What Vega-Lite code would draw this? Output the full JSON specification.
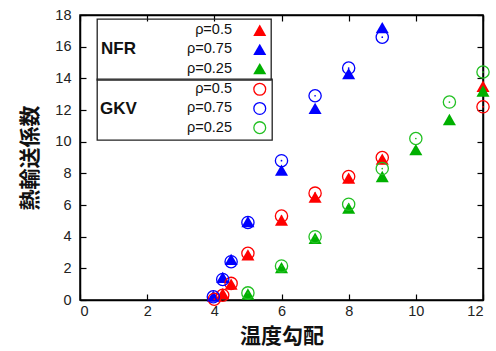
{
  "$schema": "https://vega.github.io/schema/vega-lite/v6.json",
  "autosize": {"type": "none"},
  "width": 403,
  "height": 285,
  "padding": {"left": 80, "top": 15, "right": 13, "bottom": 51},
  "background": "white",
  "config": {
    "view": {"stroke": "#000", "strokeWidth": 1.5},
    "font": "Liberation Sans",
    "axis": {
      "grid": false,
      "domainColor": "#000",
      "domainWidth": 1.5,
      "tickColor": "#000",
      "tickWidth": 1.2,
      "tickSize": -6,
      "labelFont": "Liberation Sans",
      "labelFontSize": 14.5,
      "labelColor": "#222",
      "titleFont": "Noto Sans CJK JP",
      "titleFontSize": 21,
      "titleFontWeight": "bold",
      "titleColor": "#111"
    },
    "legend": {
      "labelFont": "Liberation Sans",
      "labelFontSize": 14.5,
      "labelColor": "#111",
      "titleFont": "Liberation Sans",
      "titleFontSize": 17,
      "titleFontWeight": "bold",
      "titleColor": "#111",
      "strokeColor": "#222",
      "strokeWidth": 1.3
    }
  },
  "data": {
    "values": [
      {"nfr": "ρ=0.5", "x": 4.25, "y": 0.4},
      {"nfr": "ρ=0.5", "x": 4.5, "y": 1.0},
      {"nfr": "ρ=0.5", "x": 5, "y": 2.85},
      {"nfr": "ρ=0.5", "x": 6, "y": 5.05},
      {"nfr": "ρ=0.5", "x": 7, "y": 6.5},
      {"nfr": "ρ=0.5", "x": 8, "y": 7.7},
      {"nfr": "ρ=0.5", "x": 9, "y": 8.9},
      {"nfr": "ρ=0.5", "x": 12, "y": 13.5},
      {"nfr": "ρ=0.75", "x": 3.97, "y": 0.25},
      {"nfr": "ρ=0.75", "x": 4.25, "y": 1.43},
      {"nfr": "ρ=0.75", "x": 4.5, "y": 2.57},
      {"nfr": "ρ=0.75", "x": 5, "y": 4.95},
      {"nfr": "ρ=0.75", "x": 6, "y": 8.2},
      {"nfr": "ρ=0.75", "x": 7, "y": 12.1},
      {"nfr": "ρ=0.75", "x": 8, "y": 14.3},
      {"nfr": "ρ=0.75", "x": 9, "y": 17.2},
      {"nfr": "ρ=0.25", "x": 5, "y": 0.38},
      {"nfr": "ρ=0.25", "x": 6, "y": 2.05},
      {"nfr": "ρ=0.25", "x": 7, "y": 3.9},
      {"nfr": "ρ=0.25", "x": 8, "y": 5.8},
      {"nfr": "ρ=0.25", "x": 9, "y": 7.8},
      {"nfr": "ρ=0.25", "x": 10, "y": 9.5},
      {"nfr": "ρ=0.25", "x": 11, "y": 11.4},
      {"nfr": "ρ=0.25", "x": 12, "y": 13.2},
      {"gkv": "ρ=0.5", "x": 4.0, "y": 0.05},
      {"gkv": "ρ=0.5", "x": 4.25, "y": 0.3},
      {"gkv": "ρ=0.5", "x": 4.5, "y": 1.05},
      {"gkv": "ρ=0.5", "x": 5, "y": 2.95},
      {"gkv": "ρ=0.5", "x": 6, "y": 5.3},
      {"gkv": "ρ=0.5", "x": 7, "y": 6.75},
      {"gkv": "ρ=0.5", "x": 8, "y": 7.8},
      {"gkv": "ρ=0.5", "x": 9, "y": 9.0},
      {"gkv": "ρ=0.5", "x": 12, "y": 12.2},
      {"gkv": "ρ=0.75", "x": 3.97, "y": 0.2},
      {"gkv": "ρ=0.75", "x": 4.25, "y": 1.3},
      {"gkv": "ρ=0.75", "x": 4.5, "y": 2.42},
      {"gkv": "ρ=0.75", "x": 5, "y": 4.9},
      {"gkv": "ρ=0.75", "x": 6, "y": 8.8},
      {"gkv": "ρ=0.75", "x": 7, "y": 12.9},
      {"gkv": "ρ=0.75", "x": 8, "y": 14.65},
      {"gkv": "ρ=0.75", "x": 9, "y": 16.6},
      {"gkv": "ρ=0.25", "x": 5, "y": 0.45},
      {"gkv": "ρ=0.25", "x": 6, "y": 2.15},
      {"gkv": "ρ=0.25", "x": 7, "y": 4.0},
      {"gkv": "ρ=0.25", "x": 8, "y": 6.05},
      {"gkv": "ρ=0.25", "x": 9, "y": 8.3},
      {"gkv": "ρ=0.25", "x": 10, "y": 10.2},
      {"gkv": "ρ=0.25", "x": 11, "y": 12.5},
      {"gkv": "ρ=0.25", "x": 12, "y": 14.4}
    ]
  },
  "resolve": {"axis": {"x": "independent", "y": "independent"}},
  "layer": [
    {
      "transform": [{"filter": "isValid(datum.nfr)"}],
      "mark": {"type": "point", "shape": "triangle-up", "filled": true, "size": 170, "opacity": 1, "strokeWidth": 0},
      "encoding": {
        "x": {"field": "x", "type": "quantitative", "scale": {"domain": [0, 12], "nice": false},
          "axis": {"orient": "bottom", "values": [0, 2, 4, 6, 8, 10, 12], "title": "温度勾配", "labelPadding": 10, "titlePadding": 8}},
        "y": {"field": "y", "type": "quantitative", "scale": {"domain": [0, 18], "nice": false},
          "axis": {"orient": "left", "values": [0, 2, 4, 6, 8, 10, 12, 14, 16, 18], "title": "熱輸送係数", "labelPadding": 15, "titlePadding": 14}},
        "fill": {"field": "nfr", "type": "nominal",
          "scale": {"domain": ["ρ=0.5", "ρ=0.75", "ρ=0.25"], "range": ["#ff0000", "#0000ff", "#00b000"]},
          "legend": {"title": "NFR", "orient": "none", "legendX": 17, "legendY": 4, "padding": 4, "rowPadding": 4.2, "symbolType": "triangle-up", "symbolSize": 170, "symbolStrokeWidth": 0, "titleOrient": "left", "titleAnchor": "middle", "titleBaseline": "middle", "titlePadding": 116.5, "labelAlign": "right", "labelOffset": -35}}
      }
    },
    {
      "transform": [{"filter": "isValid(datum.gkv)"}],
      "mark": {"type": "point", "shape": "circle", "filled": false, "size": 150, "opacity": 1, "strokeWidth": 1.3},
      "encoding": {
        "x": {"field": "x", "type": "quantitative", "scale": {"domain": [0, 12], "nice": false},
          "axis": {"orient": "top", "values": [0, 2, 4, 6, 8, 10, 12], "labels": false, "title": null}},
        "y": {"field": "y", "type": "quantitative", "scale": {"domain": [0, 18], "nice": false},
          "axis": {"orient": "right", "values": [0, 2, 4, 6, 8, 10, 12, 14, 16, 18], "labels": false, "title": null}},
        "stroke": {"field": "gkv", "type": "nominal",
          "sort": ["ρ=0.5", "ρ=0.75", "ρ=0.25"],
          "scale": {"range": ["#ff0000", "#0000ff", "#22c022"]},
          "legend": {"title": "GKV", "orient": "none", "legendX": 17, "legendY": 64, "padding": 3, "rowPadding": 1.2, "symbolType": "circle", "symbolSize": 140, "symbolStrokeWidth": 1.3, "symbolFillColor": "transparent", "titleOrient": "left", "titleAnchor": "middle", "titleBaseline": "middle", "titlePadding": 115.5, "labelAlign": "right", "labelOffset": -35}}
      }
    },
    {
      "transform": [{"filter": "isValid(datum.gkv)"}],
      "mark": {"type": "point", "shape": "circle", "filled": true, "size": 3, "opacity": 1},
      "encoding": {
        "x": {"field": "x", "type": "quantitative", "axis": null},
        "y": {"field": "y", "type": "quantitative", "axis": null},
        "color": {"field": "gkv", "type": "nominal",
          "scale": {"domain": ["ρ=0.5", "ρ=0.75", "ρ=0.25"], "range": ["#ff0000", "#0000ff", "#22c022"]},
          "legend": null}
      }
    }
  ]
}
